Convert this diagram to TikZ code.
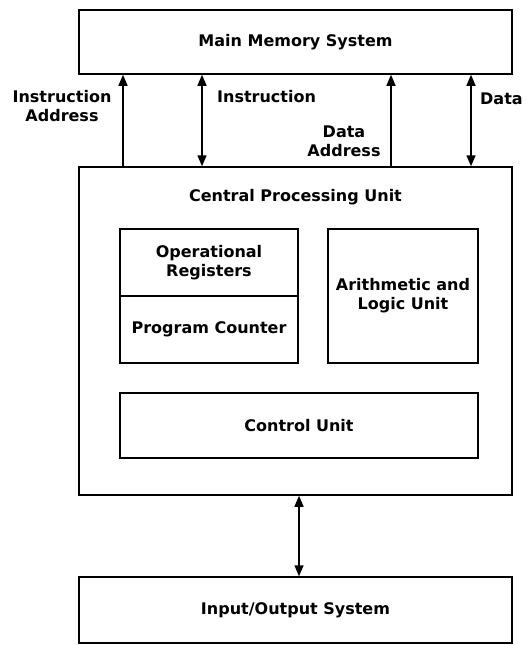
\documentclass[tikz,border=0pt]{standalone}
\usepackage{fontspec}
\setmainfont{DejaVu Sans}
\usetikzlibrary{calc, arrows.meta, positioning}

\begin{document}
\begin{tikzpicture}[x=1pt, y=-1pt,
      unitbox/.style={draw, line width=1.5pt, inner sep=0pt, align=center, font=\fontsize{16}{19}\selectfont\bfseries},
      lbl/.style={inner sep=0pt, align=center, font=\fontsize{16}{19}\selectfont\bfseries},
      link/.style={line width=1.5pt, -{Triangle[length=11pt,width=9pt]}},
      dlink/.style={line width=1.5pt, {Triangle[length=11pt,width=9pt]}-{Triangle[length=11pt,width=9pt]}}]
         \useasboundingbox (0,0) rectangle (530,645);
         % boxes
         \node[unitbox, minimum width=433pt, minimum height=64pt] (mem) at (295.5,42) {Main Memory System};
         \node[unitbox, minimum width=433pt, minimum height=328pt] (cpu) at (295.5,331) {};
         \node[lbl] (cputitle) at (295.5,197) {Central Processing Unit};
         \node[unitbox, minimum width=178pt, minimum height=67pt] (regs) at (209,262.5) {Operational\\Registers};
         \node[unitbox, minimum width=178pt, minimum height=67pt] (pc) at (209,329.5) {Program Counter};
         \node[unitbox, minimum width=150pt, minimum height=134pt] (alu) at (403,296) {Arithmetic and\\Logic Unit};
         \node[unitbox, minimum width=358pt, minimum height=65pt] (cu) at (299,425.5) {Control Unit};
         \node[unitbox, minimum width=433pt, minimum height=66pt] (io) at (295.5,610) {Input/Output System};
         % buses
         \draw[link] (cpu.north -| 123,0) -- (mem.south -| 123,0);
         \draw[dlink] (cpu.north -| 202,0) -- (mem.south -| 202,0);
         \draw[link] (cpu.north -| 391,0) -- (mem.south -| 391,0);
         \draw[dlink] (cpu.north -| 471,0) -- (mem.south -| 471,0);
         \draw[dlink] (cpu.south -| 299,0) -- (io.north -| 299,0);
         % bus labels
         \node[lbl] (iaddr) at (62,106) {Instruction\\Address};
         \node[lbl, anchor=west] (instr) at (217,97) {Instruction};
         \node[lbl] (daddr) at (344,141) {Data\\Address};
         \node[lbl, anchor=west] (data) at (480,99) {Data};
      \end{tikzpicture}
\end{document}
